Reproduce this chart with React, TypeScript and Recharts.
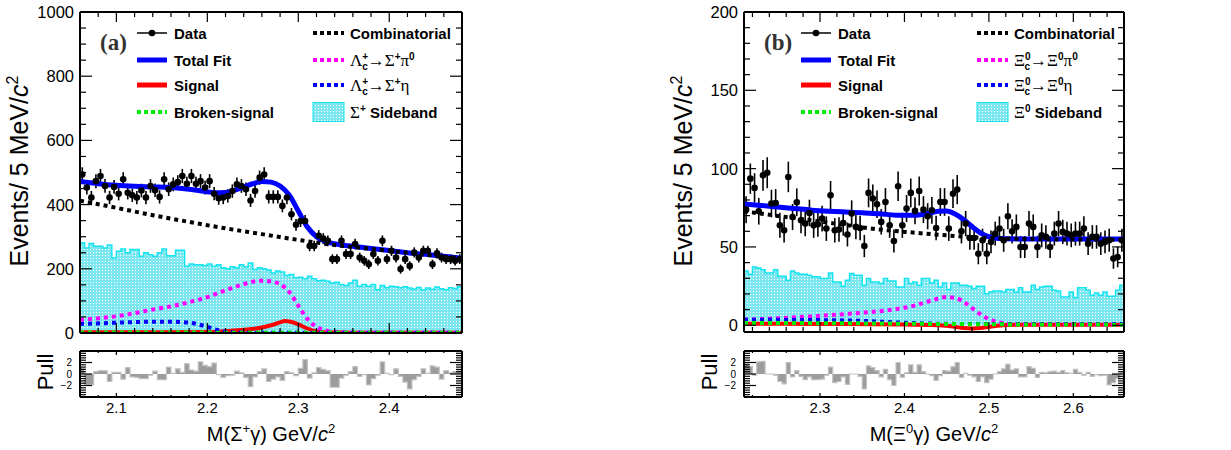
import React from 'react';
import { ComposedChart, Area, Line, Scatter, ErrorBar, XAxis, YAxis, Legend } from 'recharts';

const SANS = "'Liberation Sans', Arial, Helvetica, sans-serif";
const SERIF = "'Liberation Serif', 'Times New Roman', Times, serif";

// ================= Panel (a): M(Σ+γ) =================
const aBinStart = 2.06;
const aBinWidth = 0.005;
const aData = [494,453,422,473,489,458,422,455,434,479,437,429,422,444,422,458,445,424,479,448,463,470,489,465,489,465,473,453,473,434,420,422,427,442,463,458,448,413,442,484,494,424,424,424,396,422,370,337,349,349,271,271,303,294,287,230,230,287,246,246,277,235,225,214,246,225,287,230,256,235,199,230,209,251,235,256,256,214,248,235,230,230,225,230];
const aSideband = [281,265,279,270,270,265,274,234,255,262,250,260,260,239,250,244,239,250,262,241,241,258,258,208,215,213,213,210,215,208,213,203,200,206,203,213,206,218,198,203,200,196,187,193,190,179,182,172,174,169,177,169,163,164,161,156,158,151,148,156,164,146,151,146,151,135,148,141,146,144,141,144,140,137,142,134,140,136,143,138,135,141,139,144];
const aPull = [1.0,-1.9,-1.9,0.4,0.6,0.6,-1.3,0.3,0.3,-0.9,1.1,-0.5,-0.6,-0.8,-0.8,-0.2,0.5,-1.0,-1.0,1.2,0.1,0.9,0.3,1.8,0.7,0.5,2.1,1.5,1.3,1.9,-0.1,-0.6,-0.3,-0.2,0.5,0.2,-0.6,-2.2,-0.5,0.4,0.9,-1.3,-0.9,-0.5,-1.1,0.4,0.2,-0.3,1.0,2.5,-0.7,0.2,1.1,0.8,0.6,-2.3,-2.3,-0.7,-0.2,0.4,1.3,-0.4,-0.1,-1.9,-0.8,-0.2,2.1,0.1,-0.1,0.9,-0.4,-1.4,-2.6,-1.0,-0.4,0.9,0.1,1.4,1.2,-0.9,0.6,0.2,0.4,0.6];
const aTotalX = [2.06,2.08,2.10,2.12,2.14,2.16,2.18,2.20,2.21,2.22,2.23,2.24,2.25,2.26,2.27,2.28,2.29,2.30,2.31,2.32,2.33,2.34,2.36,2.38,2.40,2.42,2.44,2.46,2.48];
const aTotalY = [472,465,460,457,455,453,448,440,437,438,445,455,465,472,470,458,430,380,330,300,285,278,270,263,257,250,245,239,233];
const aCombX = [2.06,2.10,2.14,2.18,2.22,2.26,2.30,2.34,2.38,2.42,2.46,2.48];
const aCombY = [412,390,367,346,326,308,290,274,262,250,238,233];
const aPi0X = [2.06,2.08,2.10,2.12,2.14,2.16,2.18,2.20,2.22,2.24,2.25,2.26,2.27,2.28,2.29,2.30,2.31,2.32,2.33,2.34,2.36,2.40,2.48];
const aPi0Y = [41,46,52,62,73,83,96,112,133,152,160,163,161,152,128,85,44,19,8,3,1,1,1];
const aEtaX = [2.06,2.10,2.14,2.16,2.18,2.19,2.20,2.21,2.22,2.23,2.26,2.48];
const aEtaY = [28,32,35,35,32,27,19,10,4,1.5,1,1];
const aSigX = [2.06,2.20,2.22,2.24,2.26,2.27,2.28,2.285,2.29,2.30,2.31,2.32,2.33,2.36,2.48];
const aSigY = [2,3,6,10,17,24,33,37,36,27,14,5,2,1,1];
const aBrokenX = [2.06,2.20,2.30,2.48];
const aBrokenY = [1.5,1.2,0.8,0.5];
const aXMajor = [2.1, 2.2, 2.3, 2.4];
const aYMajor = [0, 200, 400, 600, 800, 1000];

// ================= Panel (b): M(Ξ0γ) =================
const bBinStart = 2.21;
const bBinWidth = 0.005;
const bData = [73.8,93.6,87.7,72.8,95.7,97.4,77.7,78.1,63.8,60.6,94.7,69.1,78.5,67.0,64.9,71.7,63.8,64.5,68.1,61.7,83.0,60.6,61.1,65.3,57.9,71.3,62.8,62.1,50.6,84.5,80.9,77.2,66.0,78.7,63.8,53.8,88.7,63.8,74.5,84.5,73.0,85.7,73.8,69.6,73.4,62.1,78.7,78.7,61.7,84.0,86.6,60.0,64.9,55.7,55.7,45.7,54.3,45.7,53.2,58.5,61.7,54.3,69.6,60.0,62.8,50.0,50.0,64.9,62.8,50.0,57.4,56.4,50.0,58.5,64.9,59.6,58.5,57.4,58.5,58.5,61.7,52.1,56.4,56.4,52.1,53.2,54.3,42.6,43.6,54.3];
const bSideband = [34.7,32.6,37.2,36.5,35.5,33.4,33.4,35.5,31.3,31.3,28.7,34.7,33.4,32.6,32.6,31.9,30.9,30.9,29.8,29.8,33.4,27.7,27.7,24.9,28.7,33.0,31.9,31.9,25.5,29.8,27.7,27.7,26.6,29.8,28.3,28.3,24.5,24.5,29.8,26.6,27.7,25.5,29.8,29.8,27.0,28.7,24.5,27.0,22.8,27.0,27.0,25.5,25.5,24.9,23.4,24.9,24.9,20.2,21.3,21.9,21.9,21.3,22.8,22.8,21.3,24.0,21.3,21.3,25.5,22.8,24.5,24.9,24.9,22.3,21.9,18.1,18.1,21.3,17.7,24.0,24.0,22.3,19.1,20.6,19.1,21.3,18.5,18.5,22.3,25.5];
const bPull = [1.8,1.3,-0.2,2.1,2.2,0,0,-0.2,-1.3,-1.7,2.0,-0.5,0.6,-0.4,-1.0,-0.5,-1.0,-1.0,-0.9,-0.2,1.2,-1.5,-1.3,-0.5,-1.8,0,0,-0.4,-2.6,1.4,1.1,0.6,-0.5,0.8,-1.0,-2.0,2.0,-0.6,0.2,1.6,0.3,1.6,0.4,0,-0.3,-1.1,-0.3,0.6,0.5,1.3,2.0,-0.6,0.1,-0.2,-0.5,-1.3,-0.5,-1.5,-0.9,0,0.4,0.9,1.7,0.7,0.9,-0.5,-0.5,1.3,1.0,-0.6,0.3,0.2,0.4,0.5,0.3,0.6,0.2,0.1,0.8,0.3,-0.2,0.3,-0.4,-0.1,-0.3,-0.2,-1.9,-1.5,-0.8,0.2];
const bTotalX = [2.21,2.23,2.25,2.27,2.29,2.31,2.33,2.35,2.37,2.39,2.41,2.43,2.44,2.45,2.46,2.47,2.48,2.49,2.50,2.52,2.56,2.60,2.66];
const bTotalY = [77.5,76.5,75.5,74.5,73.5,72.8,72.3,71.8,71.2,70.3,70.2,71.5,72.8,73.0,71.0,67.5,63.0,59.0,56.5,55.2,55.0,55.0,55.0];
const bCombX = [2.21,2.25,2.29,2.33,2.37,2.41,2.45,2.49,2.53,2.57,2.61,2.66];
const bCombY = [72.8,69.8,67.0,64.0,61.2,59.2,57.4,56.0,55.3,54.9,54.7,54.6];
const bPi0X = [2.21,2.25,2.30,2.35,2.38,2.41,2.43,2.45,2.46,2.47,2.48,2.49,2.50,2.51,2.53,2.66];
const bPi0Y = [3.5,4.5,6.0,8.0,9.6,12.3,15.5,18.0,17.5,15.0,11.0,7.0,4.0,2.0,0.8,0.5];
const bEtaX = [2.21,2.30,2.35,2.40,2.44,2.50,2.66];
const bEtaY = [3.5,3.3,2.8,1.6,1.0,0.8,0.8];
const bSigX = [2.21,2.30,2.40,2.44,2.46,2.47,2.48,2.49,2.50,2.51,2.53,2.66];
const bSigY = [1.0,0.8,0.5,0,-1.0,-1.8,-2.0,-1.7,-1.0,-0.3,0.3,0.3];
const bBrokenX = [2.21,2.35,2.45,2.55,2.66];
const bBrokenY = [1.5,1.2,0.8,0.5,0.4];
const bXMajor = [2.3, 2.4, 2.5, 2.6];
const bYMajor = [0, 50, 100, 150, 200];

const pullMajor = [-2, 0, 2];

// ================= helpers =================
const rng = (from: number, to: number, step: number) => {
  const out: number[] = [];
  const n = Math.round((to - from) / step);
  for (let i = 0; i <= n; i++) out.push(+(from + i * step).toFixed(4));
  return out;
};
const pairs = (xs: number[], ys: number[]) => xs.map((x, i) => ({ x, y: ys[i] }));
const histPts = (start: number, w: number, vals: number[]) => [
  ...vals.map((v, i) => ({ x: +(start + w * i).toFixed(4), y: v })),
  { x: +(start + w * vals.length).toFixed(4), y: vals[vals.length - 1] },
];
const fmt = (v: number) => (v < 0 ? '\u2212' + Math.abs(v) : String(v));

type Side = 'left' | 'right' | 'top' | 'bottom';
const makeTick = (side: Side, majors: number[], majorLen: number, minorLen: number, label?: { size: number; gap: number }) =>
  (props: any) => {
    const { x, y, payload } = props;
    const v = payload.value;
    const major = majors.some((m) => Math.abs(m - v) < 1e-6);
    const len = major ? majorLen : minorLen;
    let x2 = x, y2 = y;
    if (side === 'left') x2 = x + len;
    else if (side === 'right') x2 = x - len;
    else if (side === 'top') y2 = y + len;
    else y2 = y - len;
    return (
      <g>
        <line x1={x} y1={y} x2={x2} y2={y2} stroke="#000" strokeWidth={1.2} />
        {label && major && side === 'left' && (
          <text x={x - label.gap} y={y} dy="0.36em" textAnchor="end" fontFamily={SANS} fontSize={label.size} fill="#000">{fmt(v)}</text>
        )}
        {label && major && side === 'bottom' && (
          <text x={x} y={y + label.gap} textAnchor="middle" fontFamily={SANS} fontSize={label.size} fill="#000">{fmt(v)}</text>
        )}
      </g>
    );
  };

const AX = { stroke: '#000', strokeWidth: 2 };
const CYAN = '#13e4f0';

const Sup = ({ children, up = 6 }: any) => <tspan fontSize={10} fontWeight="bold" fontFamily={SANS} dy={-up}>{children}</tspan>;

const panels = [
  {
    id: 'a', tag: '(a)', x: 0, fLeft: 80, fRight: 462, fTop: 12, fBottom: 333,
    xDomain: [2.06, 2.48], yDomain: [0, 1000],
    xMajor: aXMajor, xTicks: rng(2.06, 2.48, 0.02), yMajor: aYMajor, yTicks: rng(0, 1000, 50),
    binStart: aBinStart, binWidth: aBinWidth, data: aData, sideband: aSideband, pull: aPull,
    total: pairs(aTotalX, aTotalY), comb: pairs(aCombX, aCombY), pi0: pairs(aPi0X, aPi0Y),
    eta: pairs(aEtaX, aEtaY), sig: pairs(aSigX, aSigY), broken: pairs(aBrokenX, aBrokenY),
    baryon: 'Λ', baryonSup: '+', daughter: 'Σ', daughterSup: '+',
  },
  {
    id: 'b', tag: '(b)', x: 615, fLeft: 129, fRight: 509, fTop: 12, fBottom: 332,
    xDomain: [2.21, 2.66], yDomain: [-4.3, 200],
    xMajor: bXMajor, xTicks: rng(2.22, 2.66, 0.02), yMajor: bYMajor, yTicks: rng(0, 200, 10),
    binStart: bBinStart, binWidth: bBinWidth, data: bData, sideband: bSideband, pull: bPull,
    total: pairs(bTotalX, bTotalY), comb: pairs(bCombX, bCombY), pi0: pairs(bPi0X, bPi0Y),
    eta: pairs(bEtaX, bEtaY), sig: pairs(bSigX, bSigY), broken: pairs(bBrokenX, bBrokenY),
    baryon: 'Ξ', baryonSup: '0', daughter: 'Ξ', daughterSup: '0',
  },
];

const Pattern = ({ id }: { id: string }) => (
  <pattern id={id} width={3} height={3} patternUnits="userSpaceOnUse">
    <rect width={3} height={3} fill="#7ee6ef" />
    <rect width={1} height={1} fill="#ffffff" />
  </pattern>
);

function decay(p: any, x: number, y: number, last: string) {
  return (
    <text x={x} y={y} fontFamily={SERIF} fontSize={17} fill="#000">
      <tspan>{p.baryon}</tspan>
      <Sup>{p.baryonSup}</Sup>
      <tspan fontSize={10} fontWeight="bold" fontFamily={SANS} dx={-6} dy={10}>c</tspan>
      <tspan dy={-4}>{'→' + p.daughter}</tspan>
      <Sup>{p.daughterSup}</Sup>
      <tspan dy={6}>{last}</tspan>
      {last === 'π' ? <Sup>0</Sup> : null}
    </text>
  );
}

function LegendBox({ p }: { p: any }) {
  const r = [18, 45, 70, 97];
  const s1 = 47, e1 = 77, t1 = 84, s2 = 223, e2 = 254, t2 = 260;
  const txt = (x: number, y: number, s: string) => (
    <text x={x} y={y + 5.5} fontFamily={SANS} fontWeight="bold" fontSize={15} fill="#000">{s}</text>
  );
  const dl = (x1: number, x2: number, y: number, c: string) => (
    <line x1={x1} x2={x2} y1={y} y2={y} stroke={c} strokeWidth={4} strokeDasharray="4 3" />
  );
  return (
    <svg width={380} height={115} style={{ display: 'block', overflow: 'visible' }}>
      <defs><Pattern id={`lg-${p.id}`} /></defs>
      <text x={10} y={35} fontFamily={SERIF} fontWeight="bold" fontSize={23} fill="#333">{p.tag}</text>
      <line x1={s1} x2={e1} y1={r[0]} y2={r[0]} stroke="#000" strokeWidth={1.5} />
      <circle cx={(s1 + e1) / 2} cy={r[0]} r={3.3} fill="#000" />
      {txt(t1, r[0], 'Data')}
      <line x1={s1} x2={e1} y1={r[1]} y2={r[1]} stroke="#0000ff" strokeWidth={5} />
      {txt(t1, r[1], 'Total Fit')}
      <line x1={s1} x2={e1} y1={r[2]} y2={r[2]} stroke="#ff0000" strokeWidth={5} />
      {txt(t1, r[2], 'Signal')}
      {dl(s1, e1, r[3], '#00ee00')}
      {txt(t1, r[3], 'Broken-signal')}
      {dl(s2, e2, r[0], '#000')}
      {txt(t2, r[0], 'Combinatorial')}
      {dl(s2, e2, r[1], '#ff00ff')}
      {decay(p, t2, r[1] + 5.5, 'π')}
      {dl(s2, e2, r[2], '#0000ff')}
      {decay(p, t2, r[2] + 5.5, 'η')}
      <rect x={s2} y={r[3] - 9.5} width={e2 - s2} height={19} fill={`url(#lg-${p.id})`} stroke={CYAN} strokeWidth={1} />
      <text x={t2} y={r[3] + 5.5} fontFamily={SERIF} fontSize={17} fill="#000">
        <tspan>{p.daughter}</tspan>
        <Sup>{p.daughterSup}</Sup>
        <tspan dy={6} fontFamily={SANS} fontWeight="bold" fontSize={15}>{' Sideband'}</tspan>
      </text>
    </svg>
  );
}

const dotShape = (props: any) => <circle cx={props.cx} cy={props.cy} r={3.3} fill="#000" />;

const curveLine = (key: string, pts: any[], color: string, width: number, dash?: string) => (
  <Line key={key} xAxisId="b" yAxisId="l" data={pts} dataKey="y" type="monotone" stroke={color}
    strokeWidth={width} strokeDasharray={dash} dot={false} activeDot={false} isAnimationActive={false} legendType="none" />
);

function MainChart({ p }: { p: any }) {
  const W = 615, H = 345;
  const margin = { top: p.fTop - 1, bottom: H - p.fBottom - 1, left: p.fLeft - 1, right: W - p.fRight - 1 };
  const sb = histPts(p.binStart, p.binWidth, p.sideband);
  const pts = p.data.map((v: number, i: number) => ({ x: +(p.binStart + p.binWidth * (i + 0.5)).toFixed(4), y: v, err: Math.sqrt(v) }));
  return (
    <ComposedChart width={W} height={H} margin={margin}>
      <defs><Pattern id={`sb-${p.id}`} /></defs>
      <XAxis xAxisId="b" dataKey="x" type="number" domain={p.xDomain} allowDataOverflow ticks={p.xTicks} interval={0}
        tickSize={0} tickMargin={0} tickLine={false} axisLine={AX} height={1} tick={makeTick('bottom', p.xMajor, 10, 5)} />
      <XAxis xAxisId="t" dataKey="x" orientation="top" type="number" domain={p.xDomain} allowDataOverflow ticks={p.xTicks} interval={0}
        tickSize={0} tickMargin={0} tickLine={false} axisLine={AX} height={1} tick={makeTick('top', p.xMajor, 10, 5)} />
      <YAxis yAxisId="l" type="number" domain={p.yDomain} allowDataOverflow ticks={p.yTicks} interval={0}
        tickSize={0} tickMargin={0} tickLine={false} axisLine={AX} width={1} tick={makeTick('left', p.yMajor, 12, 6, { size: 16.5, gap: 6 })} />
      <YAxis yAxisId="r" orientation="right" type="number" domain={p.yDomain} allowDataOverflow ticks={p.yTicks} interval={0}
        tickSize={0} tickMargin={0} tickLine={false} axisLine={AX} width={1} tick={makeTick('right', p.yMajor, 12, 6)} />
      <Area xAxisId="b" yAxisId="l" data={sb} dataKey="y" type="stepAfter" baseValue={0} stroke={CYAN} strokeWidth={1.5}
        fill={`url(#sb-${p.id})`} fillOpacity={1} dot={false} activeDot={false} isAnimationActive={false} legendType="none" />
      <Scatter xAxisId="b" yAxisId="l" data={pts} dataKey="y" shape={dotShape} isAnimationActive={false} legendType="none">
        <ErrorBar dataKey="err" direction="y" width={0} stroke="#000" strokeWidth={1.6} />
      </Scatter>
      {curveLine('total', p.total, '#0000ff', 5)}
      {curveLine('sig', p.sig, '#ff0000', 4)}
      {curveLine('comb', p.comb, '#000000', 4, '4 4')}
      {curveLine('pi0', p.pi0, '#ff00ff', 4, '4 4')}
      {curveLine('eta', p.eta, '#0000ff', 4, '4 4')}
      {curveLine('broken', p.broken, '#00ee00', 4, '4 4')}
      <Line xAxisId="t" yAxisId="r" data={p.comb} dataKey="y" stroke="none" dot={false} activeDot={false} isAnimationActive={false} legendType="none" />
      <Legend layout="vertical" align="center" verticalAlign="middle" content={() => <LegendBox p={p} />}
        wrapperStyle={{ left: p.fLeft + 10, top: 15, width: 380, height: 115 }} />
    </ComposedChart>
  );
}

function PullChart({ p }: { p: any }) {
  const W = 615, H = 105;
  const fTop = 6, fBottom = 52;
  const margin = { top: fTop - 1, bottom: H - fBottom - 1, left: p.fLeft - 1, right: W - p.fRight - 1 };
  const hp = histPts(p.binStart, p.binWidth, p.pull);
  const yt = rng(-4, 4, 0.4);
  return (
    <ComposedChart width={W} height={H} margin={margin}>
      <XAxis xAxisId="b" dataKey="x" type="number" domain={p.xDomain} allowDataOverflow ticks={p.xTicks} interval={0}
        tickSize={0} tickMargin={0} tickLine={false} axisLine={AX} height={1} tick={makeTick('bottom', p.xMajor, 4, 2, { size: 15, gap: 16 })} />
      <XAxis xAxisId="t" dataKey="x" orientation="top" type="number" domain={p.xDomain} allowDataOverflow ticks={p.xTicks} interval={0}
        tickSize={0} tickMargin={0} tickLine={false} axisLine={AX} height={1} tick={makeTick('top', p.xMajor, 4, 2)} />
      <YAxis yAxisId="l" type="number" domain={[-4, 4]} allowDataOverflow ticks={yt} interval={0}
        tickSize={0} tickMargin={0} tickLine={false} axisLine={AX} width={1} tick={makeTick('left', pullMajor, 12, 6, { size: 10, gap: 8 })} />
      <YAxis yAxisId="r" orientation="right" type="number" domain={[-4, 4]} allowDataOverflow ticks={yt} interval={0}
        tickSize={0} tickMargin={0} tickLine={false} axisLine={AX} width={1} tick={makeTick('right', pullMajor, 12, 6)} />
      <Area xAxisId="b" yAxisId="l" data={hp} dataKey="y" type="stepAfter" baseValue={0} stroke="#c2c2c2" strokeWidth={1.2}
        fill="#9c9c9c" fillOpacity={1} dot={false} activeDot={false} isAnimationActive={false} legendType="none" />
      <Line xAxisId="t" yAxisId="r" data={hp} dataKey="y" stroke="none" dot={false} activeDot={false} isAnimationActive={false} legendType="none" />
    </ComposedChart>
  );
}

function Titles() {
  return (
    <svg width={1231} height={450} style={{ position: 'absolute', left: 0, top: 0, pointerEvents: 'none' }}>
      {panels.map((p) => {
        const fl = p.x + p.fLeft;
        const cx = p.x + (p.fLeft + p.fRight) / 2;
        return (
          <g key={p.id} fontFamily={SANS} fill="#000">
            <text transform={`translate(${fl - 52}, 171) rotate(-90)`} textAnchor="middle" fontSize={25}>
              Events/ 5 MeV/<tspan fontStyle="italic">c</tspan><tspan dy={-10} fontSize={16}>2</tspan>
            </text>
            <text transform={`translate(${fl - 27}, 372) rotate(-90)`} textAnchor="middle" fontSize={22}>Pull</text>
            <text x={cx} y={441} textAnchor="middle" fontSize={20}>
              M({p.daughter}<tspan dy={-8} fontSize={13}>{p.daughterSup}</tspan><tspan dy={8}>γ) GeV/</tspan>
              <tspan fontStyle="italic">c</tspan><tspan dy={-8} fontSize={13}>2</tspan>
            </text>
          </g>
        );
      })}
    </svg>
  );
}

export default function App() {
  return (
    <div style={{ position: 'absolute', left: 0, top: 0, width: 1231, height: 450, background: '#fff', overflow: 'hidden' }}>
      {panels.map((p) => (
        <React.Fragment key={p.id}>
          <div style={{ position: 'absolute', left: p.x, top: 0 }}>
            <MainChart p={p} />
          </div>
          <div style={{ position: 'absolute', left: p.x, top: 345 }}>
            <PullChart p={p} />
          </div>
        </React.Fragment>
      ))}
      <Titles />
    </div>
  );
}
